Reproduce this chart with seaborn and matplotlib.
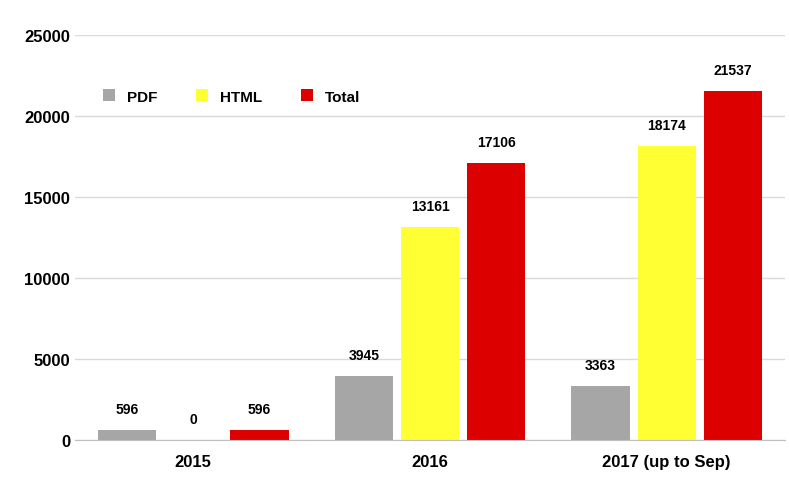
import matplotlib
matplotlib.use("Agg")
import matplotlib.pyplot as plt
import seaborn as sns
import pandas as pd

years = ["2015", "2016", "2017 (up to Sep)"]
series = ["PDF", "HTML", "Total"]
pdf = [596, 3945, 3363]
html = [0, 13161, 18174]
total = [596, 17106, 21537]
colors = {"PDF": "#a6a6a6", "HTML": "#ffff33", "Total": "#dd0000"}

rows = []
for i, y in enumerate(years):
    for s, vals in zip(series, [pdf, html, total]):
        rows.append({"year": y, "series": s, "value": vals[i]})
df = pd.DataFrame(rows)

plt.rcParams["font.family"] = "Liberation Sans"
fig = plt.figure(figsize=(7.89, 5.02), dpi=100)
ax = fig.add_axes([0.095, 0.1215, 0.9, 0.8065])
sns.barplot(data=df, x="year", y="value", hue="series", palette=colors,
            hue_order=series, order=years, ax=ax, width=0.84, gap=0.12,
            edgecolor="none", saturation=1)
ax.set_ylim(0, 25000)
ax.set_yticks(range(0, 25001, 5000))
ax.grid(axis="y", color="#d9d9d9", linewidth=1)
ax.set_axisbelow(True)
for sp in ["left", "right", "top"]:
    ax.spines[sp].set_visible(False)
ax.spines["bottom"].set_color("#bfbfbf")
ax.tick_params(axis="both", length=0, labelsize=12)
ax.tick_params(axis="x", pad=10)
for lab in ax.get_xticklabels() + ax.get_yticklabels():
    lab.set_fontweight("bold")
ax.set_xlabel("")
ax.set_ylabel("")
for c in ax.containers:
    ax.bar_label(c, padding=10, fontsize=10, fontweight="bold")
leg = ax.legend(loc="upper left", bbox_to_anchor=(0.02, 0.9), ncol=3, frameon=False,
                prop={"weight": "bold", "size": 11}, handlelength=0.8,
                handleheight=0.8, columnspacing=2.5)
fig.savefig("out.png", dpi=100)
